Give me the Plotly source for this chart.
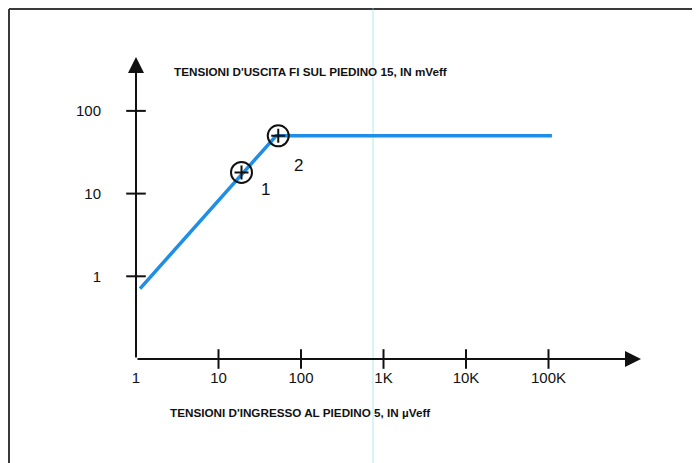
import plotly.graph_objects as go

# ---- data ----
x_tick_vals = [1, 10, 100, 1000, 10000, 100000]
x_tick_text = ["1", "10", "100", "1K", "10K", "100K"]
y_tick_vals = [1, 10, 100]
y_tick_text = ["1", "10", "100"]

curve_x = [1.12, 50, 110000]      # µVeff
curve_y = [0.71, 50, 50]          # mVeff

point_x = [19, 53]
point_y = [18, 50]
point_labels = ["1", "2"]

title_top = "TENSIONI D'USCITA FI SUL PIEDINO 15, IN mVeff"
title_bottom = "TENSIONI D'INGRESSO AL PIEDINO 5, IN µVeff"

# ---- layout geometry (page pixels; the page body has an 8px margin) ----
OFF = 8
PAGE_W, PAGE_H = 700, 463
W, H = PAGE_W - OFF, PAGE_H - OFF
PLOT_L, PLOT_R, PLOT_T, PLOT_B = 136, 648, 53, 359     # page pixels
ML, MR = PLOT_L - OFF, W - (PLOT_R - OFF)
MT, MB = PLOT_T - OFF, H - (PLOT_B - OFF)
PW, PH = PLOT_R - PLOT_L, PLOT_B - PLOT_T
X_RANGE = [0, PW / 82.5]
Y_RANGE = [-1, -1 + PH / 82.7]

def pxx(px):
    return (px - PLOT_L) / PW

def pxy(py):
    return (PLOT_B - py) / PH

BLUE = "#1E8EE6"
INK = "#111111"
FONT = "Liberation Sans, Arial, sans-serif"

fig = go.Figure()

# main curve
fig.add_trace(go.Scatter(x=curve_x, y=curve_y, mode="lines",
                         line=dict(color=BLUE, width=3.5),
                         hoverinfo="skip", showlegend=False))

# marked points: circle with small plus
fig.add_trace(go.Scatter(x=point_x, y=point_y, mode="markers",
                         marker=dict(symbol="circle-open", size=21, color=INK,
                                     line=dict(color=INK, width=2)),
                         hoverinfo="skip", showlegend=False))
fig.add_trace(go.Scatter(x=point_x, y=point_y, mode="markers",
                         marker=dict(symbol="cross-thin-open", size=10, color=INK,
                                     line=dict(color=INK, width=2)),
                         hoverinfo="skip", showlegend=False))

# tick crosses
fig.add_trace(go.Scatter(x=[1] * len(y_tick_vals), y=y_tick_vals, mode="markers",
                         marker=dict(symbol="line-ew-open", size=14, color=INK,
                                     line=dict(color=INK, width=2)),
                         cliponaxis=False, hoverinfo="skip", showlegend=False))
fig.add_trace(go.Scatter(x=x_tick_vals[1:], y=[0.1] * (len(x_tick_vals) - 1), mode="markers",
                         marker=dict(symbol="line-ns-open", size=14, color=INK,
                                     line=dict(color=INK, width=2)),
                         cliponaxis=False, hoverinfo="skip", showlegend=False))

annotations = []
# axis arrows
annotations.append(dict(xref="paper", yref="paper", x=pxx(641), y=0,
                        ax=-(641 - PLOT_L), ay=0, text="", showarrow=True,
                        arrowhead=2, arrowsize=1.6, arrowwidth=2, arrowcolor=INK))
annotations.append(dict(xref="paper", yref="paper", x=0, y=pxy(57),
                        ax=0, ay=(PLOT_B - 57), text="", showarrow=True,
                        arrowhead=2, arrowsize=1.6, arrowwidth=2, arrowcolor=INK))
# titles
annotations.append(dict(xref="paper", yref="paper", x=pxx(172), y=pxy(71),
                        xanchor="left", yanchor="middle", text=title_top, showarrow=False,
                        font=dict(family=FONT, size=11.7, color=INK, weight="bold")))
annotations.append(dict(xref="paper", yref="paper", x=pxx(168), y=pxy(412),
                        xanchor="left", yanchor="middle", text=title_bottom, showarrow=False,
                        font=dict(family=FONT, size=11.7, color=INK, weight="bold")))
# point labels
label_px = [(259, 189), (292, 154)]
for lab, (lx, ly) in zip(point_labels, label_px):
    annotations.append(dict(xref="paper", yref="paper", x=pxx(lx), y=pxy(ly),
                            text=lab, showarrow=False,
                            font=dict(family=FONT, size=17, color=INK)))

shapes = [
    # page frame: top and left edges (the rest lies outside the picture)
    dict(type="line", xref="paper", yref="paper",
         x0=pxx(9), x1=pxx(PAGE_W + 20), y0=pxy(9), y1=pxy(9),
         line=dict(color="#3a3a3a", width=2), layer="below"),
    dict(type="line", xref="paper", yref="paper",
         x0=pxx(9), x1=pxx(9), y0=pxy(9), y1=pxy(PAGE_H + 20),
         line=dict(color="#3a3a3a", width=2), layer="below"),
    # faint scanner line
    dict(type="line", xref="paper", yref="paper",
         x0=pxx(373), x1=pxx(373), y0=pxy(PAGE_H + 5), y1=pxy(-5),
         line=dict(color="rgba(120,220,225,0.6)", width=1), layer="below"),
]

fig.update_layout(
    width=W, height=H,
    margin=dict(l=ML, r=MR, t=MT, b=MB, pad=0),
    paper_bgcolor="white", plot_bgcolor="rgba(0,0,0,0)",
    showlegend=False,
    xaxis=dict(type="log", range=X_RANGE, showgrid=False, zeroline=False,
               showline=False, ticks="", tickvals=x_tick_vals, ticktext=x_tick_text,
               ticklabelstandoff=8,
               tickfont=dict(family=FONT, size=15, color=INK), fixedrange=True),
    yaxis=dict(type="log", range=Y_RANGE, showgrid=False, zeroline=False,
               showline=False, ticks="", tickvals=y_tick_vals, ticktext=y_tick_text,
               ticklabelstandoff=34,
               tickfont=dict(family=FONT, size=15, color=INK), fixedrange=True),
    annotations=annotations,
    shapes=shapes,
)

fig.write_html("out.html", config={"displayModeBar": False},
               post_script="document.documentElement.style.overflow='hidden';"
                           "document.body.style.overflow='hidden';")
